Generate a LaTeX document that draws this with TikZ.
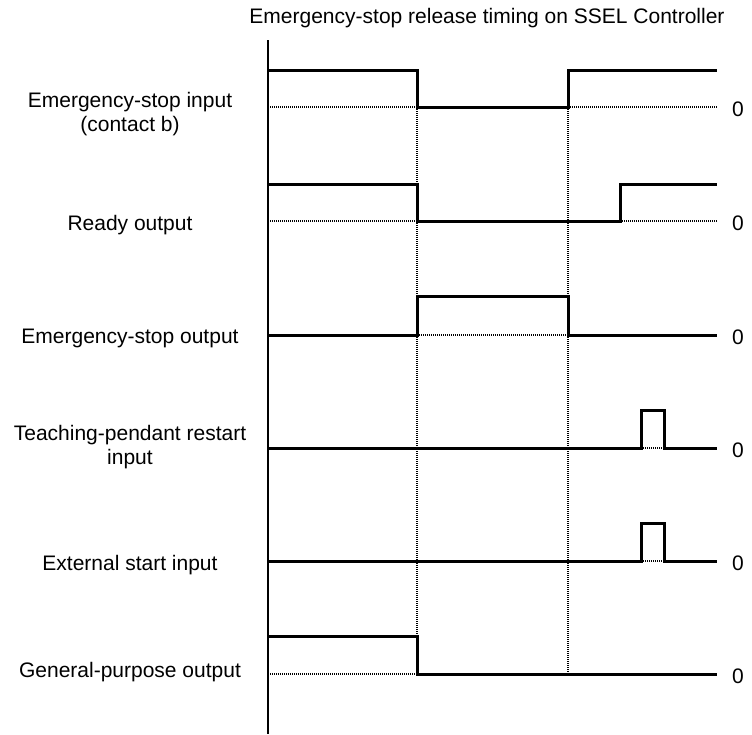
\documentclass[tikz,border=0pt]{standalone}
\usepackage{fontspec}
\setmainfont{Liberation Sans}
\usetikzlibrary{calc}
\tikzset{
  sig/.style={line width=3pt,line join=miter},
  axis/.style={line width=2.4pt},
  zline/.style={line width=1.4pt,dash pattern=on 1.2pt off 0.8pt},
  vline/.style={line width=1.6pt,dash pattern=on 1.2pt off 0.8pt},
  lbl/.style={font=\fontsize{21}{24}\selectfont,align=center,inner sep=0pt},
  zero/.style={font=\fontsize{21}{24}\selectfont,inner sep=0pt}
}
\begin{document}
\begin{tikzpicture}[x=1pt,y=-1pt]
  \useasboundingbox (0,0) rectangle (752,734);
  % Title
  \node[lbl,anchor=base] (title) at (487,23) {Emergency-stop release timing on SSEL Controller};

  % Time axis
  \draw[axis] (268,40) -- (268,734);

  % Event markers
  \draw[vline] (417,107) -- (417,674);
  \draw[vline] (568,107) -- (568,674);

  % Zero levels
  \draw[zline] (268,107) -- (417,107);
  \draw[zline] (568,107) -- (717,107);
  \draw[zline] (268,221) -- (417,221);
  \draw[zline] (620,221) -- (717,221);
  \draw[zline] (417,335) -- (568,335);
  \draw[zline] (641,448) -- (664,448);
  \draw[zline] (641,561) -- (664,561);
  \draw[zline] (268,674) -- (417,674);

  % Signals
  \draw[sig] (268,70) -- (417,70) -- (417,107) -- (568,107) -- (568,70) -- (717,70);
  \draw[sig] (268,184) -- (417,184) -- (417,221) -- (620,221) -- (620,184) -- (717,184);
  \draw[sig] (268,335) -- (417,335) -- (417,296) -- (568,296) -- (568,335) -- (717,335);
  \draw[sig] (268,448) -- (641,448) -- (641,410) -- (664,410) -- (664,448) -- (717,448);
  \draw[sig] (268,561) -- (641,561) -- (641,523) -- (664,523) -- (664,561) -- (717,561);
  \draw[sig] (268,636) -- (417,636) -- (417,674) -- (717,674);

  % Signal names
  \node[lbl] (estopin) at (130,114) {Emergency-stop input\\(contact b)};
  \node[lbl,anchor=base] (ready) at (130,230) {Ready output};
  \node[lbl,anchor=base] (estopout) at (130,343) {Emergency-stop output};
  \node[lbl] (tprestart) at (130,447) {Teaching-pendant restart\\input};
  \node[lbl,anchor=base] (extstart) at (130,570) {External start input};
  \node[lbl,anchor=base] (gpout) at (130,677) {General-purpose output};

  % Zero marks
  \foreach \y/\n in {107/z1,221/z2,335/z3,448/z4,561/z5,674/z6}
    \node[zero] (\n) at (738,\y+2) {0};
\end{tikzpicture}
\end{document}
